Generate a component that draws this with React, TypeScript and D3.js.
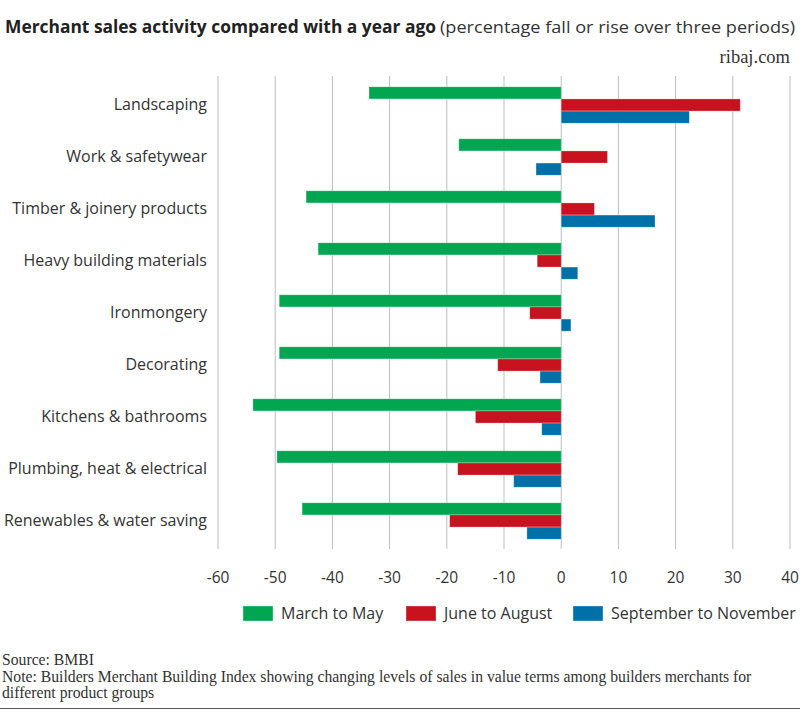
import { useEffect, useRef } from "react";
import * as d3 from "d3";

const categories = [
  "Landscaping",
  "Work & safetywear",
  "Timber & joinery products",
  "Heavy building materials",
  "Ironmongery",
  "Decorating",
  "Kitchens & bathrooms",
  "Plumbing, heat & electrical",
  "Renewables & water saving",
];

const seriesNames = ["March to May", "June to August", "September to November"];
const seriesColors = ["#00a650", "#c8121d", "#0070a8"];

const marchToMay = [-33.6, -17.9, -44.6, -42.5, -49.3, -49.3, -53.9, -49.7, -45.3];
const juneToAugust = [31.3, 8.1, 5.8, -4.2, -5.5, -11.1, -15.0, -18.1, -19.5];
const septToNov = [22.4, -4.4, 16.4, 2.9, 1.7, -3.7, -3.4, -8.3, -6.0];

const xTicks = [-60, -50, -40, -30, -20, -10, 0, 10, 20, 30, 40];

const W = 800;
const H = 713;

export default function App() {
  const ref = useRef<SVGSVGElement>(null);

  useEffect(() => {
    document.body.style.margin = "0";
    if (!ref.current) return;
    const svg = d3.select(ref.current);
    svg.selectAll("*").remove();

    const sans = "'Open Sans', Roboto, sans-serif";
    const serif = "'Liberation Serif', 'DejaVu Serif', serif";

    svg.append("rect").attr("width", W).attr("height", H).attr("fill", "#fff");

    // title
    svg.append("text")
      .attr("x", 5).attr("y", 33).attr("fill", "#222")
      .attr("font-family", sans).attr("font-weight", 700).attr("font-size", 17.5)
      .attr("textLength", 431).attr("lengthAdjust", "spacingAndGlyphs")
      .text("Merchant sales activity compared with a year ago");
    svg.append("text")
      .attr("x", 440).attr("y", 33).attr("fill", "#333")
      .attr("font-family", sans).attr("font-weight", 400).attr("font-size", 16)
      .attr("textLength", 355).attr("lengthAdjust", "spacingAndGlyphs")
      .text("(percentage fall or rise over three periods)");

    svg.append("text")
      .attr("x", 790).attr("y", 63).attr("text-anchor", "end")
      .attr("font-family", serif).attr("font-size", 18.5).attr("fill", "#333")
      .text("ribaj.com");

    const x = d3.scaleLinear().domain([-60, 40]).range([218, 790]);
    const y = d3.scaleBand<string>().domain(categories).range([79, 547])
      .paddingInner(0.3).paddingOuter(0.15);
    const ys = d3.scaleBand<number>().domain([0, 1, 2]).range([0, y.bandwidth()]);

    // gridlines
    svg.append("g").selectAll("line").data(xTicks).join("line")
      .attr("x1", (d) => x(d)).attr("x2", (d) => x(d))
      .attr("y1", 76).attr("y2", 549)
      .attr("stroke", "#bdbdbd")
      .attr("stroke-width", 1);

    // axis labels
    svg.append("g").selectAll("text").data(xTicks).join("text")
      .attr("x", (d) => x(d)).attr("y", 583)
      .attr("text-anchor", "middle")
      .attr("font-family", sans).attr("font-size", 15.5).attr("fill", "#333")
      .text((d) => String(d));

    const series = [marchToMay, juneToAugust, septToNov];
    series.forEach((vals, si) => {
      svg.append("g").selectAll("rect").data(vals).join("rect")
        .attr("x", (d) => x(Math.min(0, d)))
        .attr("y", (_, i) => (y(categories[i]) ?? 0) + (ys(si) ?? 0))
        .attr("width", (d) => Math.abs(x(d) - x(0)))
        .attr("height", ys.bandwidth())
        .attr("fill", seriesColors[si])
        .attr("stroke", "rgba(255,255,255,0.35)")
        .attr("stroke-width", 0.8);
    });

    // category labels
    svg.append("g").selectAll("text").data(categories).join("text")
      .attr("x", 207)
      .attr("y", (d) => (y(d) ?? 0) + y.bandwidth() / 2 + 5)
      .attr("text-anchor", "end")
      .attr("font-family", sans).attr("font-size", 16).attr("fill", "#333")
      .text((d) => d);

    // legend
    const legendX = [243, 406, 573];
    const lg = svg.append("g");
    seriesNames.forEach((name, i) => {
      lg.append("rect")
        .attr("x", legendX[i]).attr("y", 606).attr("width", 30).attr("height", 15)
        .attr("fill", seriesColors[i])
        .attr("stroke", "rgba(255,255,255,0.35)");
      lg.append("text")
        .attr("x", legendX[i] + 38).attr("y", 619)
        .attr("font-family", sans).attr("font-size", 16).attr("fill", "#333")
        .text(name);
    });

    // footer
    const foot = [
      { t: "Source: BMBI", y: 665 },
      { t: "Note: Builders Merchant Building Index showing changing levels of sales in value terms among builders merchants for", y: 682 },
      { t: "different product groups", y: 698 },
    ];
    svg.append("g").selectAll("text").data(foot).join("text")
      .attr("x", 2).attr("y", (d) => d.y)
      .attr("font-family", serif).attr("font-size", 15.7).attr("fill", "#333")
      .text((d) => d.t);

    svg.append("line")
      .attr("x1", 0).attr("x2", W).attr("y1", 708.5).attr("y2", 708.5)
      .attr("stroke", "#555").attr("stroke-width", 1);
  }, []);

  return <svg ref={ref} width={W} height={H} style={{ display: "block" }} />;
}
